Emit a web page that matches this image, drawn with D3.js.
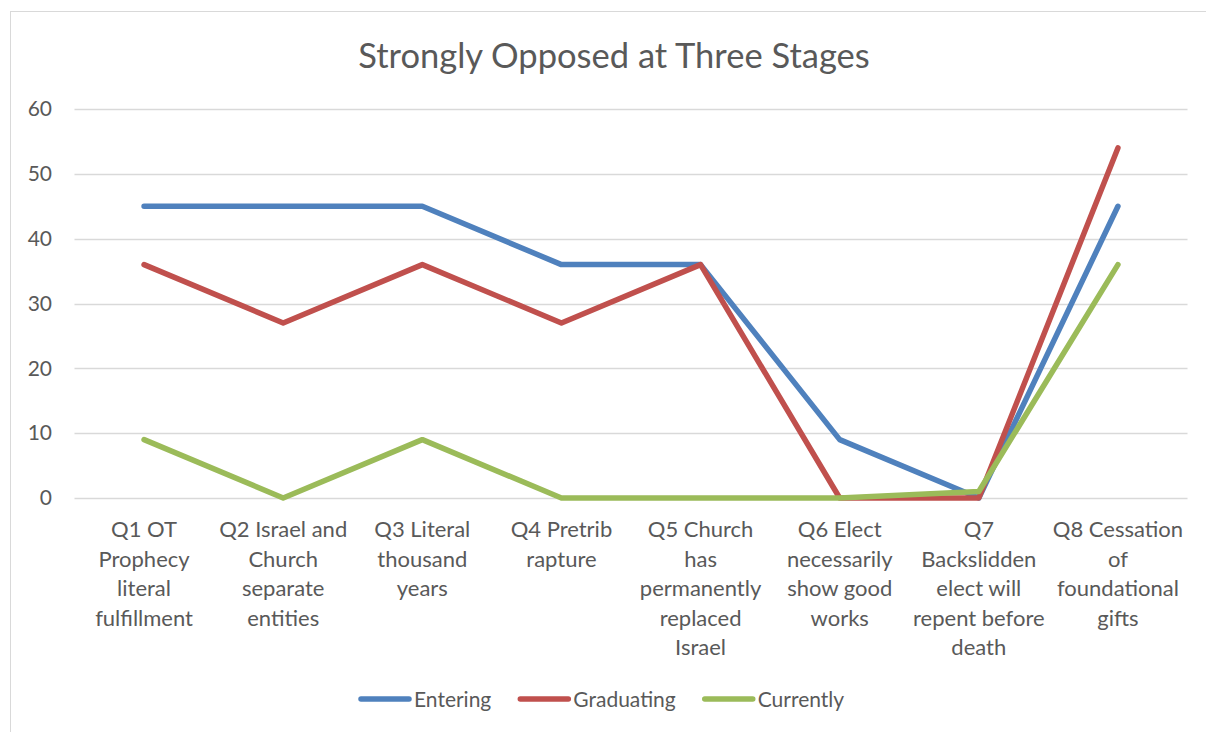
<!DOCTYPE html>
<html>
<head>
<meta charset="utf-8">
<script src="https://cdn.jsdelivr.net/npm/d3@7"></script>
<style>
  html, body { margin: 0; padding: 0; background: #fff; }
  svg { display: block; font-family: Lato, "Open Sans", sans-serif; }
</style>
</head>
<body>
<div id="chart"></div>
<script>
// category labels, split the way the chart wraps them
const categories = ['Q1', 'Q2', 'Q3', 'Q4', 'Q5', 'Q6', 'Q7', 'Q8'];
const categoryLines = [
  ['Q1 OT', 'Prophecy', 'literal', 'fulfillment'],
  ['Q2 Israel and', 'Church', 'separate', 'entities'],
  ['Q3 Literal', 'thousand', 'years'],
  ['Q4 Pretrib', 'rapture'],
  ['Q5 Church', 'has', 'permanently', 'replaced', 'Israel'],
  ['Q6 Elect', 'necessarily', 'show good', 'works'],
  ['Q7', 'Backslidden', 'elect will', 'repent before', 'death'],
  ['Q8 Cessation', 'of', 'foundational', 'gifts']
];

const entering   = [45, 45, 45, 36, 36, 9, 0, 45];
const graduating = [36, 27, 36, 27, 36, 0, 0, 54];
const currently  = [9, 0, 9, 0, 0, 0, 1, 36];

const seriesNames = ['Entering', 'Graduating', 'Currently'];
const seriesValues = [entering, graduating, currently];
const seriesColors = ['#4F81BD', '#C0504D', '#9BBB59'];

const yTicks = [0, 10, 20, 30, 40, 50, 60];

const width = 1206;
const height = 732;
const textColor = '#595959';

const svg = d3.select('#chart')
  .append('svg')
  .attr('width', width)
  .attr('height', height);

// chart area border (only top and left sit inside the picture)
svg.append('rect')
  .attr('x', 10.5).attr('y', 11.5)
  .attr('width', width + 20).attr('height', height + 20)
  .attr('fill', 'none')
  .attr('stroke', '#D9D9D9')
  .attr('stroke-width', 1);

svg.append('text')
  .attr('x', 614).attr('y', 68)
  .attr('text-anchor', 'middle')
  .attr('font-size', '34.5px')
  .attr('fill', textColor)
  .text('Strongly Opposed at Three Stages');

const x = d3.scaleBand()
  .domain(categories)
  .range([74.5, 1187.5]);

const y = d3.scaleLinear()
  .domain([0, 60])
  .range([498, 109]);

// gridlines
svg.append('g')
  .selectAll('line')
  .data(yTicks)
  .join('line')
  .attr('x1', x.range()[0]).attr('x2', x.range()[1])
  .attr('y1', d => Math.round(y(d)) + 0.5)
  .attr('y2', d => Math.round(y(d)) + 0.5)
  .attr('stroke', '#D9D9D9')
  .attr('stroke-width', 1.5);

// y axis labels
const yAxis = svg.append('g')
  .attr('transform', 'translate(64,0)')
  .call(d3.axisLeft(y).tickValues(yTicks).tickSize(0).tickPadding(12));
yAxis.select('.domain').remove();
yAxis.selectAll('text')
  .attr('font-family', 'Lato, "Open Sans", sans-serif')
  .attr('font-size', '21px')
  .attr('fill', textColor);

// category labels
const xLabels = svg.append('g')
  .selectAll('text')
  .data(categories)
  .join('text')
  .attr('x', d => x(d) + x.bandwidth() / 2)
  .attr('y', 537)
  .attr('text-anchor', 'middle')
  .attr('font-size', '22px')
  .attr('fill', textColor);

xLabels.selectAll('tspan')
  .data((d, i) => categoryLines[i])
  .join('tspan')
  .attr('x', function () { return d3.select(this.parentNode).attr('x'); })
  .attr('dy', (d, i) => i === 0 ? 0 : 29.5)
  .text(d => d);

// lines
const line = d3.line()
  .x((d, i) => x(categories[i]) + x.bandwidth() / 2)
  .y(d => y(d));

svg.append('g')
  .selectAll('path')
  .data(seriesValues)
  .join('path')
  .attr('d', d => line(d))
  .attr('fill', 'none')
  .attr('stroke', (d, i) => seriesColors[i])
  .attr('stroke-width', 5.5)
  .attr('stroke-linejoin', 'round')
  .attr('stroke-linecap', 'round');

// legend
const legend = svg.append('g');
let lx = 359;
seriesNames.forEach((name, i) => {
  legend.append('line')
    .attr('x1', lx + 2).attr('x2', lx + 50)
    .attr('y1', 699).attr('y2', 699)
    .attr('stroke', seriesColors[i])
    .attr('stroke-width', 5.5)
    .attr('stroke-linecap', 'round');
  const t = legend.append('text')
    .attr('x', lx + 55)
    .attr('y', 706.5)
    .attr('font-size', '21px')
    .attr('fill', textColor)
    .text(name);
  lx += 55 + t.node().getComputedTextLength() + 27;
});
</script>
</body>
</html>
